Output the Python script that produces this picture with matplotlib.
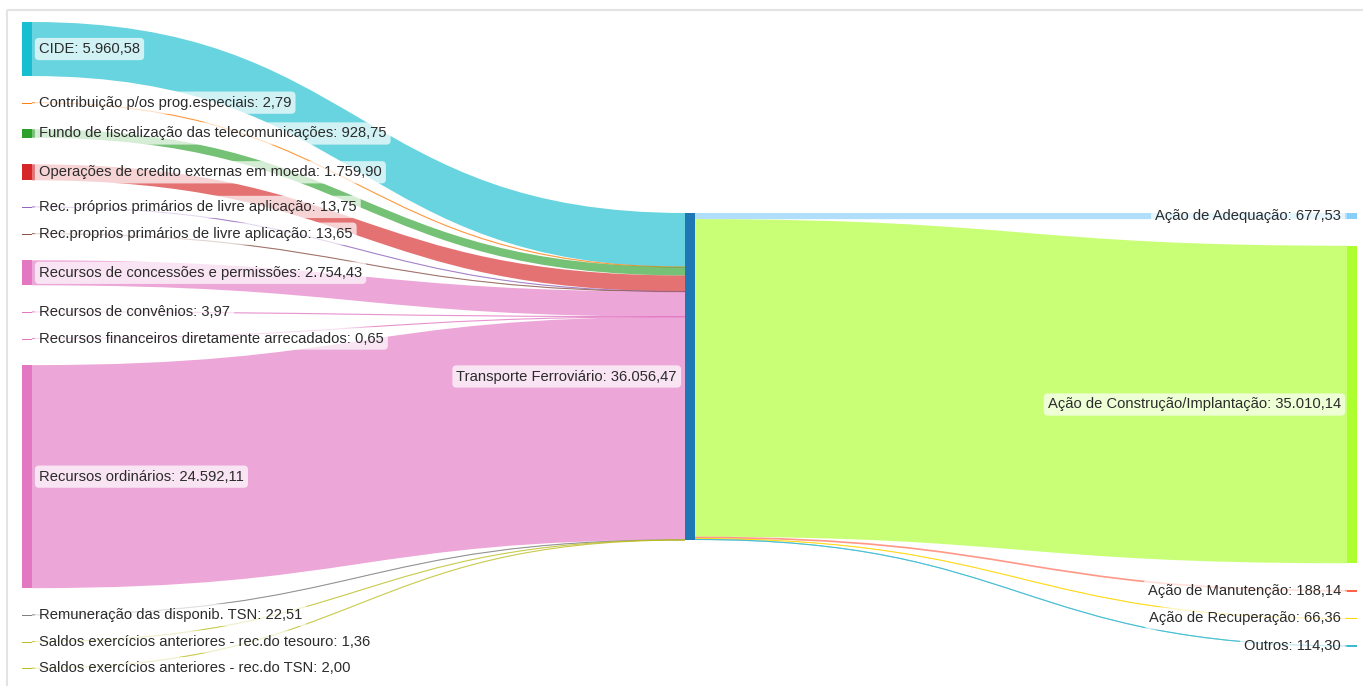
import matplotlib.pyplot as plt
from matplotlib.path import Path
from matplotlib.patches import PathPatch, Rectangle

plt.rcParams['font.family'] = ['Liberation Sans', 'DejaVu Sans']

# fontes de recursos (coluna da esquerda)
fontes = [
    'CIDE',
    'Contribuição p/os prog.especiais',
    'Fundo de fiscalização das telecomunicações',
    'Operações de credito externas em moeda',
    'Rec. próprios primários de livre aplicação',
    'Rec.proprios primários de livre aplicação',
    'Recursos de concessões e permissões',
    'Recursos de convênios',
    'Recursos financeiros diretamente arrecadados',
    'Recursos ordinários',
    'Remuneração das disponib. TSN',
    'Saldos exercícios anteriores - rec.do tesouro',
    'Saldos exercícios anteriores - rec.do TSN',
]
valores_fontes = [5960.58, 2.79, 928.75, 1759.90, 13.75, 13.65, 2754.43,
                  3.97, 0.65, 24592.11, 22.51, 1.36, 2.00]
cores_fontes = ['#17becf', '#ff7f0e', '#2ca02c', '#d62728', '#9467bd', '#8c564b',
                '#e377c2', '#e377c2', '#e377c2', '#e377c2', '#7f7f7f', '#bcbd22',
                '#bcbd22']

# programa (coluna do meio)
programa = 'Transporte Ferroviário'
valor_programa = 36056.47
cor_programa = '#1f77b4'

# ações (coluna da direita)
acoes = ['Ação de Adequação', 'Ação de Construção/Implantação',
         'Ação de Manutenção', 'Ação de Recuperação', 'Outros']
valores_acoes = [677.53, 35010.14, 188.14, 66.36, 114.30]
cores_acoes = ['#87cefa', '#adff2f', '#ff6347', '#ffd700', '#3bbad0']


def fmt_br(v):
    s = f'{v:,.2f}'
    return s.replace(',', '#').replace('.', ',').replace('#', '.')


def faixa(ax, x0, y0, x1, y1, h, cor):
    xm = (x0 + x1) / 2
    verts = [(x0, y0), (xm, y0), (xm, y1), (x1, y1),
             (x1, y1 + h), (xm, y1 + h), (xm, y0 + h), (x0, y0 + h), (x0, y0)]
    codes = [Path.MOVETO, Path.CURVE4, Path.CURVE4, Path.CURVE4,
             Path.LINETO, Path.CURVE4, Path.CURVE4, Path.CURVE4, Path.CLOSEPOLY]
    ax.add_patch(PathPatch(Path(verts, codes), fc=cor, ec='none', alpha=0.65, zorder=1))
    if h < 1.5:
        # fluxos muito pequenos viram uma linha fina
        c0, c1 = y0 + h / 2, y1 + h / 2
        linha = Path([(x0, c0), (xm, c0), (xm, c1), (x1, c1)],
                     [Path.MOVETO, Path.CURVE4, Path.CURVE4, Path.CURVE4])
        ax.add_patch(PathPatch(linha, fc='none', ec=cor, lw=0.8, alpha=0.8, zorder=1))


def rotulo(ax, x, y, texto, ha):
    ax.text(x, y, texto, ha=ha, va='center', fontsize=10.6, color='#2b2b2b', zorder=5,
            bbox=dict(boxstyle='round,pad=0.28', fc='white', ec='none', alpha=0.7))


W, H = 1363, 686
fig = plt.figure(figsize=(W / 100, H / 100), dpi=100)
ax = fig.add_axes([0, 0, 1, 1])
ax.set_xlim(0, W)
ax.set_ylim(H, 0)
ax.axis('off')

escala = 327 / valor_programa
gap = 26.6
larg = 10
x_esq, x_meio, x_dir = 22, 685, 1347
topo_esq, topo_meio, topo_dir = 22, 213, 213

# posições verticais dos nós
ys_esq = []
y = topo_esq
for v in valores_fontes:
    ys_esq.append(y)
    y += v * escala + gap

ys_dir = []
y = topo_dir
for v in valores_acoes:
    ys_dir.append(y)
    y += v * escala + gap

# fluxos fontes -> programa
y_in = topo_meio
for v, y0, cor in zip(valores_fontes, ys_esq, cores_fontes):
    h = v * escala
    faixa(ax, x_esq + larg, y0, x_meio, y_in, h, cor)
    y_in += h

# fluxos programa -> ações
y_out = topo_meio
for v, y1, cor in zip(valores_acoes, ys_dir, cores_acoes):
    h = v * escala
    faixa(ax, x_meio + larg, y_out, x_dir, y1, h, cor)
    y_out += h

# nós
for v, y0, cor, nome in zip(valores_fontes, ys_esq, cores_fontes, fontes):
    h = v * escala
    ax.add_patch(Rectangle((x_esq, y0), larg, max(h, 1.3), fc=cor, ec='none', zorder=3))
    rotulo(ax, x_esq + larg + 7, y0 + h / 2, f'{nome}: {fmt_br(v)}', 'left')

h_meio = valor_programa * escala
ax.add_patch(Rectangle((x_meio, topo_meio), larg, h_meio, fc=cor_programa, ec='none', zorder=3))
rotulo(ax, x_meio - 8, topo_meio + h_meio / 2, f'{programa}: {fmt_br(valor_programa)}', 'right')

for v, y0, cor, nome in zip(valores_acoes, ys_dir, cores_acoes, acoes):
    h = v * escala
    ax.add_patch(Rectangle((x_dir, y0), larg, max(h, 1.3), fc=cor, ec='none', zorder=3))
    rotulo(ax, x_dir - 6, y0 + h / 2, f'{nome}: {fmt_br(v)}', 'right')

# moldura
ax.add_patch(Rectangle((7, 10), 1400, 700, fill=False, ec='#e3e3e3', lw=1.5, zorder=0))

fig.savefig('out.png', dpi=100, facecolor='white')
